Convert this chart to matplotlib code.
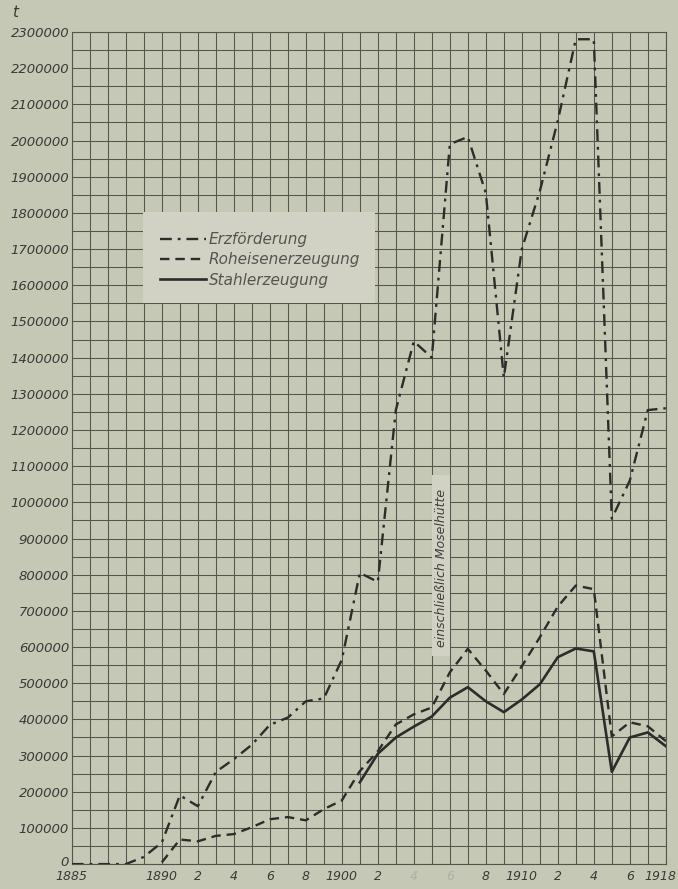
import numpy as np
import matplotlib.pyplot as plt
import matplotlib.transforms as mtransforms
from matplotlib.patches import Rectangle

nan = np.nan

### Data (tons per year)
years = list(range(1885, 1919))

erzfoerderung = [0, 0, 0, 0, 20000, 60000, 190000, 160000, 255000, 290000,
                 330000, 385000, 405000, 450000, 458000, 565000, 805000, 780000,
                 1255000, 1445000, 1400000, 1990000, 2010000, 1855000, 1345000,
                 1700000, 1860000, 2055000, 2280000, 2280000, 955000, 1060000,
                 1255000, 1260000]

roheisen = [nan, nan, nan, nan, nan, 5000, 68000, 63000, 78000, 83000,
            102000, 124000, 130000, 121000, 152000, 176000, 257000, 312000,
            386000, 414000, 433000, 530000, 595000, 535000, 470000,
            547000, 627000, 712000, 770000, 760000, 353000, 392000,
            381000, 340000]

stahl = [nan, nan, nan, nan, nan, nan, nan, nan, nan, nan,
         nan, nan, nan, nan, nan, nan, 226000, 305000,
         350000, 380000, 408000, 460000, 489000, 450000, 420000,
         455000, 497000, 572000, 596000, 588000, 255000, 350000,
         364000, 326000]

x_labels = {1885: '1885', 1890: '1890', 1892: '2', 1894: '4', 1896: '6',
            1898: '8', 1900: '1900', 1902: '2', 1904: '4', 1906: '6',
            1908: '8', 1910: '1910', 1912: '2', 1914: '4', 1916: '6',
            1918: '1918'}
faded_labels = [1904, 1906]

series_names = ['Erzförderung', 'Roheisenerzeugung', 'Stahlerzeugung']

### Styling
bg = '#c6c8b6'
box_bg = '#d1d2c4'
grid_col = '#54554c'
line_col = '#2c2c2a'
text_col = '#3a3a36'

fig = plt.figure(figsize=(6.78, 8.89), dpi=100, facecolor=bg)
ax = fig.add_axes([0.106, 0.028, 0.876, 0.936])
ax.set_facecolor(bg)

ax.set_xlim(1885, 1918)
ax.set_ylim(0, 2300000)

# grid: every year, every 50000 t
ax.set_xticks(years)
ax.set_xticklabels([x_labels.get(y, '') for y in years])
ax.set_yticks(range(0, 2300001, 100000))
ax.set_yticklabels([str(v) for v in range(0, 2300001, 100000)])
ax.set_yticks(range(50000, 2300000, 100000), minor=True)
ax.set_axisbelow(True)
ax.grid(True, which='both', color=grid_col, lw=0.75)
ax.tick_params(which='both', length=0)
ax.tick_params(axis='y', labelsize=9.5, labelcolor=text_col, pad=2)
ax.tick_params(axis='x', labelsize=9, labelcolor=text_col, pad=4)
for lab in ax.get_yticklabels() + ax.get_xticklabels():
    lab.set_style('italic')
for lab, y in zip(ax.get_xticklabels(), years):
    if y in faded_labels:
        lab.set_color('#aeaf a1'.replace(' ', ''))
    if y == 1918:
        lab.set_horizontalalignment('right')
        lab.set_transform(lab.get_transform() +
                          mtransforms.ScaledTranslation(11 / 100, 0, fig.dpi_scale_trans))
# lift the "0" a little so it clears "1885"
ylabs = ax.get_yticklabels()
ylabs[0].set_transform(ylabs[0].get_transform() +
                       mtransforms.ScaledTranslation(0, 3 / 100, fig.dpi_scale_trans))
for s in ax.spines.values():
    s.set_color(grid_col)
    s.set_linewidth(0.8)

### Lines
ax.plot(years, erzfoerderung, color=line_col, lw=1.7,
        dashes=(5, 2.5, 1.2, 2.5), label=series_names[0], zorder=3)
ax.plot(years, roheisen, color=line_col, lw=1.7,
        dashes=(4, 2.5), label=series_names[1], zorder=3)
ax.plot(years, stahl, color=line_col, lw=1.9, label=series_names[2], zorder=3)

# legend box (blank paper, no grid)
ax.add_patch(Rectangle((1888.95, 1550000), 12.9, 252000, facecolor=box_bg,
                       edgecolor='none', zorder=1))
leg = ax.legend(loc='upper left', bbox_to_anchor=(0.135, 0.769), frameon=False,
                fontsize=11, handlelength=3.0, handletextpad=0.2,
                labelspacing=0.35, borderpad=0)
for t in leg.get_texts():
    t.set_style('italic')
    t.set_color('#55554f')

# note for the Moselhütte step
ax.add_patch(Rectangle((1905, 575000), 1, 500000, facecolor=box_bg,
                       edgecolor='none', zorder=1))
ax.text(1905.55, 820000, 'einschließlich Moselhütte', rotation=90,
        ha='center', va='center', fontsize=9, style='italic', color='#3e3e3a',
        zorder=2)

# unit
fig.text(0.018, 0.986, 't', fontsize=11, style='italic', color=text_col,
         ha='left', va='center')

fig.savefig('out.png', dpi=100, facecolor=bg)
